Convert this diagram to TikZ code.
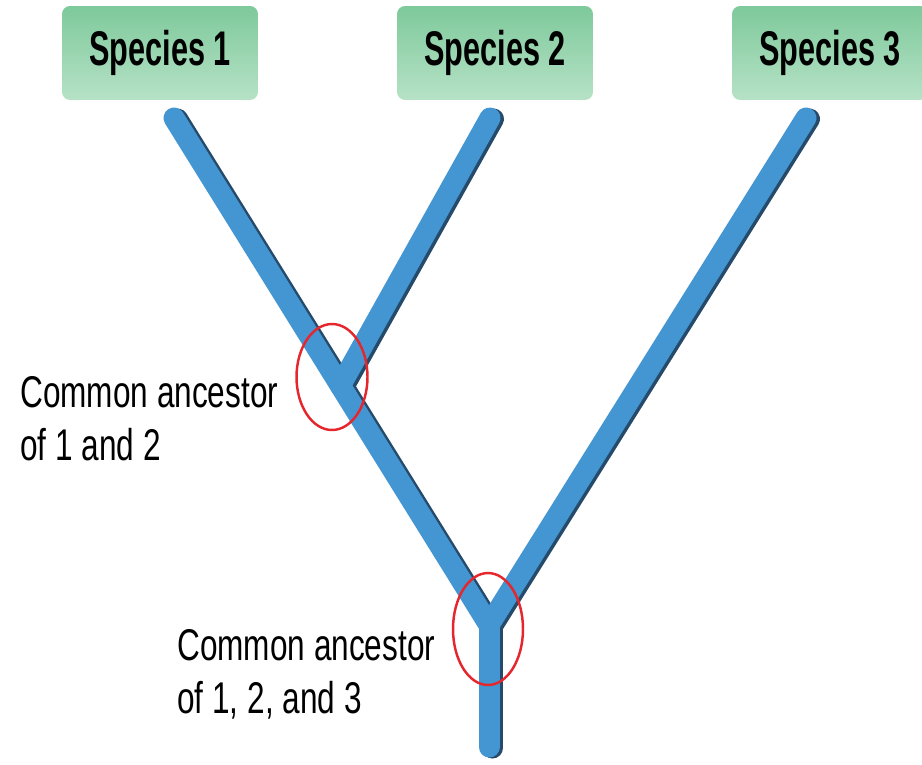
\documentclass[tikz,border=0pt]{standalone}
\usepackage{fontspec}
\setmainfont{Liberation Sans}
\usepackage{graphicx}
\usetikzlibrary{calc}

% squeeze text sideways, the way the figure sets it
\newcommand{\narrowtext}[2]{\scalebox{#1}[1]{#2}}

\begin{document}
\begin{tikzpicture}[x=0.02cm, y=-0.02cm,
    speciesbox/.style={rounded corners=0.16cm, top color=boxtop, bottom color=boxbottom,
        minimum width=3.92cm, minimum height=1.88cm, inner sep=0pt,
        font=\fontsize{27.7pt}{33pt}\selectfont\bfseries},
    branch/.style={line width=0.42cm, line cap=round, line join=miter, draw=branchblue},
    branchshadow/.style={line width=0.42cm, line cap=round, line join=miter, draw=branchdark,
        transform canvas={xshift=0.07cm, yshift=-0.02cm}},
    ancestorring/.style={draw=ringred, line width=1.4pt},
    ancestortext/.style={anchor=base west, inner sep=0pt,
        font=\fontsize{25.3pt}{30.6pt}\selectfont}]
        % Define colors
        \definecolor{boxtop}{RGB}{126,201,155}
        \definecolor{boxbottom}{RGB}{182,226,198}
        \definecolor{branchblue}{RGB}{68,150,210}
        \definecolor{branchdark}{RGB}{38,74,106}
        \definecolor{ringred}{RGB}{230,38,45}

        % Frame of the figure
        \path[use as bounding box, clip] (0,0) rectangle (922,764);

        % 1. Species boxes (top row)
        \node[speciesbox] (sp1) at (160,53) {\narrowtext{0.63}{Species 1}};
        \node[speciesbox] (sp2) at (495,53) {\narrowtext{0.63}{Species 2}};
        \node[speciesbox] (sp3) at (830,53) {\narrowtext{0.63}{Species 3}};

        % 2. Tips, junctions and base of the tree
        \coordinate (tip1) at (174,118);
        \coordinate (tip2) at (490,118);
        \coordinate (tip3) at (806,118);
        \coordinate (root) at (489,625);
        \coordinate (base) at (489,747);
        \coordinate (fork) at ($(tip1)!0.528!(root)$);

        % Shadow edge under the branches
        \draw[branchshadow] (tip1) -- (root) -- (tip3);
        \draw[branchshadow] (tip2) -- (fork);
        \draw[branchshadow] (root) -- (base);

        % The branches
        \draw[branch] (root) -- (base);
        \draw[branch] (tip1) -- (root) -- (tip3);
        \draw[branch] (tip2) -- (fork);

        % 3. Rings round the common ancestors
        \draw[ancestorring] (332,377) ellipse [x radius=0.71cm, y radius=1.06cm];
        \draw[ancestorring] (488,629) ellipse [x radius=0.70cm, y radius=1.12cm];

        % 4. Labels
        \node[ancestortext] (anc12) at (20,407)
            {\narrowtext{0.71}{\begin{tabular}[t]{@{}l@{}}Common ancestor\\of 1 and 2\end{tabular}}};
        \node[ancestortext] (anc123) at (177,660)
            {\narrowtext{0.71}{\begin{tabular}[t]{@{}l@{}}Common ancestor\\of 1, 2, and 3\end{tabular}}};

    \end{tikzpicture}
\end{document}
